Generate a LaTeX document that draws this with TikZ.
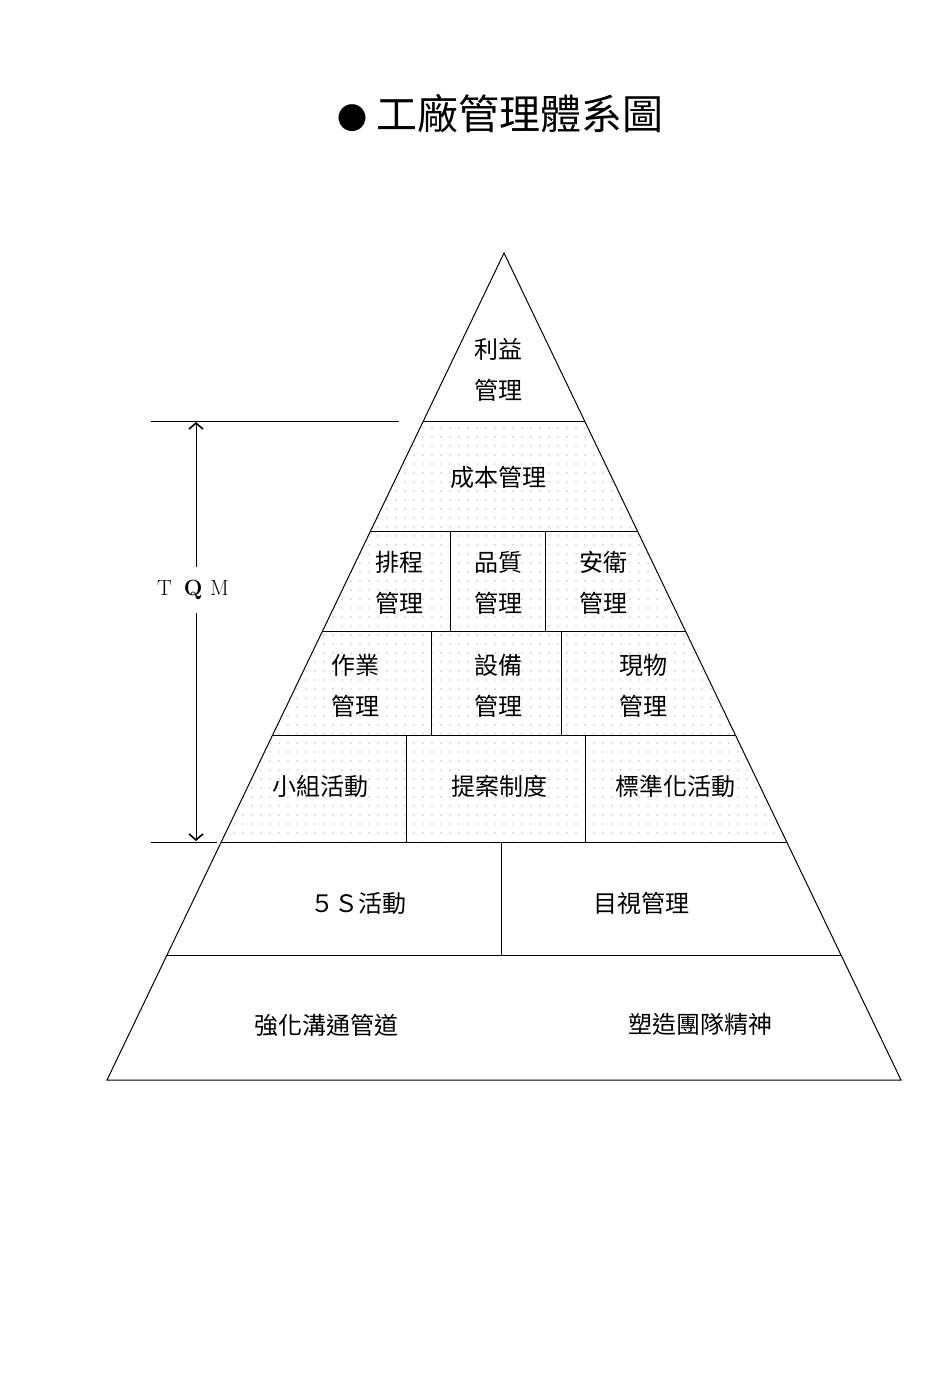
\documentclass[tikz,border=0pt]{standalone}
\usepackage{fontspec}
\newfontfamily\cjk{Noto Sans CJK TC}
\usetikzlibrary{arrows.meta, patterns.meta}

\begin{document}
\begin{tikzpicture}[x=1pt, y=-1pt,
      lbl/.style={font=\cjk\fontsize{24}{41}\selectfont, align=center, inner sep=0pt},
      arr/.style={{Straight Barb[length=6pt, width=14pt, line width=1.6pt]}-{Straight Barb[length=6pt, width=14pt, line width=1.6pt]}, line width=1pt},
      dotfill/.style={pattern={Dots[distance=9pt, radius=0.6pt]}, pattern color=black!50},
      pyr/.style={line width=1pt}
    ]
    \useasboundingbox (0,0) rectangle (950,1373);

    \node[font=\cjk\fontsize{41}{41}\selectfont, inner sep=0pt] (title) at (500,114)
      {{\fontsize{30}{30}\selectfont ●}\hspace{9pt}工廠管理體系圖};

    % TQM band is dotted
    \fill[dotfill] (423.4,421) -- (584.6,421) -- (786.7,842) -- (221.3,842) -- cycle;
    \draw[pyr] (504,253) -- (901,1080) -- (107,1080) -- cycle;

    \foreach \y/\l/\r in {421/423.4/584.6, 531/370.5/637.5, 631/322.5/685.5,
                          735/272.6/735.4, 842/221.3/786.7, 955/167/841}
      \draw[pyr] (\l,\y) -- (\r,\y);

    \foreach \x/\a/\b in {450/531/631, 545/531/631, 431/631/735, 561/631/735,
                          406/735/842, 585/735/842, 501/842/955}
      \draw[pyr] (\x,\a) -- (\x,\b);

    \node[lbl] (profit)   at (498,370) {利益\\管理};
    \node[lbl] (cost)     at (498,477) {成本管理};
    \node[lbl] (sched)    at (399,583) {排程\\管理};
    \node[lbl] (quality)  at (498,583) {品質\\管理};
    \node[lbl] (safety)   at (603,583) {安衛\\管理};
    \node[lbl] (work)     at (355,686) {作業\\管理};
    \node[lbl] (equip)    at (498,686) {設備\\管理};
    \node[lbl] (goods)    at (643,686) {現物\\管理};
    \node[lbl] (team)     at (320,786) {小組活動};
    \node[lbl] (propose)  at (499,786) {提案制度};
    \node[lbl] (standard) at (675,786) {標準化活動};
    \node[lbl] (fives)    at (358,903) {５Ｓ活動};
    \node[lbl] (visual)   at (641,903) {目視管理};
    \node[lbl] (comm)     at (326,1025) {強化溝通管道};
    \node[lbl] (spirit)   at (700,1025) {塑造團隊精神};

    % TQM span
    \draw[pyr] (151,421) -- (399,421);
    \draw[pyr] (151,842) -- (217,842);
    \coordinate (tqm-top) at (196,422);
    \coordinate (tqm-bot) at (196,841);
    \draw[arr] (tqm-top) -- (tqm-bot);
    \node[fill=white, font=\fontsize{22}{22}\selectfont, inner xsep=2pt, inner ysep=13pt] (tqm) at (193,590)
      {T\hspace{0.55em}\textbf{Q}\hspace{0.35em}M};
  \end{tikzpicture}
\end{document}
